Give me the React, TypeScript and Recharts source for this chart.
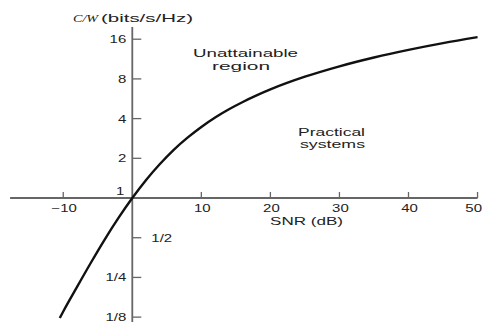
import { LineChart, Line, XAxis, YAxis, ReferenceLine, ReferenceDot } from 'recharts';

const snrDb = [-10.5, -10, -8, -6, -4, -2, 0, 2, 4, 6, 8, 10, 12, 14, 16, 18, 20, 25, 30, 35, 40, 45, 50];
const capacity = [0.123, 0.138, 0.212, 0.323, 0.484, 0.706, 1, 1.37, 1.81, 2.32, 2.87, 3.46, 4.08, 4.71, 5.35, 6.0, 6.66, 8.31, 9.97, 11.63, 13.29, 14.95, 16.6];

const xTicks = [-10, 10, 20, 30, 40, 50];
const xTickLabels = ['\u221210', '10', '20', '30', '40', '50'];
const yTicks = [16, 8, 4, 2, 1, 0.5, 0.25, 0.125];
const yTickLabels = ['16', '8', '4', '2', '1', '1/2', '1/4', '1/8'];

const FONT = '"Liberation Sans", Arial, Helvetica, sans-serif';
const INK = '#222';
const AXIS = '#666';

const data = snrDb.map((snr, i) => ({ snr, cw: capacity[i] }));

// stretched text, the scan is wider than it is tall
function Stretch({ x, y, text, anchor = 'start' }: { x: number; y: number; text: string; anchor?: string }) {
  return (
    <text
      transform={`translate(${x},${y}) scale(1.5,1)`}
      textAnchor={anchor as any}
      fontSize={10}
      fontFamily={FONT}
      fill={INK}
    >
      {text}
    </text>
  );
}

function Fit({ x, y, w, text, italic = false }: { x: number; y: number; w: number; text: string; italic?: boolean }) {
  return (
    <text
      x={x}
      y={y}
      textLength={w}
      lengthAdjust="spacingAndGlyphs"
      fontSize={11}
      fontStyle={italic ? 'italic' : 'normal'}
      fontFamily={italic ? '"Liberation Serif", serif' : FONT}
      fill={INK}
    >
      {text}
    </text>
  );
}

function xTickShape(label: string, last: boolean) {
  return (p: any) => (
    <g>
      <line x1={p.cx} x2={p.cx} y1={p.cy - 6} y2={p.cy} stroke={AXIS} strokeWidth={1.3} />
      {last ? (
        <Stretch x={482} y={p.cy + 14} text={label} anchor="end" />
      ) : (
        <Stretch x={p.cx + 1} y={p.cy + 14} text={label} anchor="middle" />
      )}
    </g>
  );
}

function yTickShape(label: string) {
  return (p: any) => {
    if (label === '1') {
      return <Stretch x={p.cx - 8} y={p.cy - 3} text={label} anchor="end" />;
    }
    const right = label === '1/2';
    return (
      <g>
        <line x1={p.cx} x2={p.cx + 9} y1={p.cy} y2={p.cy} stroke={AXIS} strokeWidth={1.3} />
        {right ? (
          <Stretch x={p.cx + 19} y={p.cy + 4} text={label} />
        ) : (
          <Stretch x={p.cx - 6} y={p.cy + 4} text={label} anchor="end" />
        )}
      </g>
    );
  };
}

export default function App() {
  return (
    <div style={{ position: 'absolute', left: 0, top: 0, width: 483, height: 322, background: '#fff' }}>
      <LineChart width={483} height={322} data={data} margin={{ top: 27, right: 2, bottom: 0, left: 8 }}>
        <XAxis dataKey="snr" type="number" domain={[-18, 50.5]} allowDataOverflow hide />
        <YAxis type="number" scale="log" domain={[0.1148, 19.8]} allowDataOverflow hide />
        <ReferenceLine
          segment={[{ x: -17.7, y: 1 }, { x: 50, y: 1 }]}
          stroke={AXIS}
          strokeWidth={1.8}
          ifOverflow="visible"
        />
        <ReferenceLine x={0} stroke={AXIS} strokeWidth={1.8} />
        {xTicks.map((v, i) => (
          <ReferenceDot
            key={`x${v}`}
            x={v}
            y={1}
            r={0}
            ifOverflow="visible"
            shape={xTickShape(xTickLabels[i], i === xTicks.length - 1)}
          />
        ))}
        {yTicks.map((v, i) => (
          <ReferenceDot key={`y${v}`} x={0} y={v} r={0} ifOverflow="visible" shape={yTickShape(yTickLabels[i])} />
        ))}
        <Line
          dataKey="cw"
          type="monotone"
          stroke="#111"
          strokeWidth={2.4}
          dot={false}
          isAnimationActive={false}
        />
      </LineChart>
      <svg width={483} height={322} style={{ position: 'absolute', left: 0, top: 0, pointerEvents: 'none' }}>
        <Fit x={73} y={22} w={25} text="C/W" italic />
        <Fit x={101} y={22} w={92} text="(bits/s/Hz)" />
        <Fit x={193} y={57} w={105} text="Unattainable" />
        <Fit x={212} y={70} w={58} text="region" />
        <Fit x={298} y={136} w={67} text="Practical" />
        <Fit x={300} y={148} w={65} text="systems" />
        <Fit x={270} y={225} w={73} text="SNR (dB)" />
      </svg>
    </div>
  );
}
